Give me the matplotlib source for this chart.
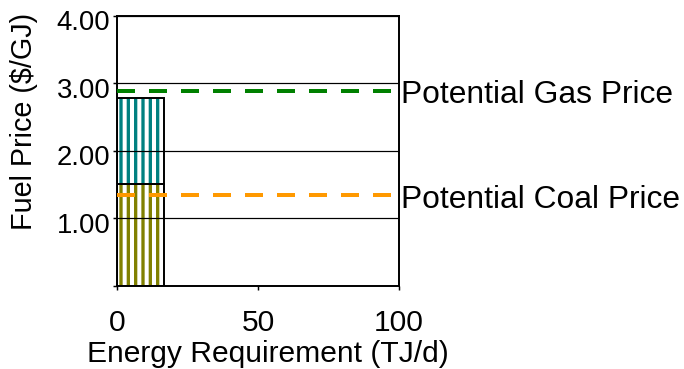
import matplotlib
matplotlib.use("Agg")
import matplotlib.pyplot as plt
import matplotlib.transforms as mtransforms

# Fuel supply data
energy_requirement = 16.7        # TJ/d
coal_price_band = 1.50           # $/GJ, lower (coal) segment top
gas_price_band = 2.78            # $/GJ, upper (gas) segment top
potential_gas_price = 2.89       # $/GJ
potential_coal_price = 1.35      # $/GJ

x_ticks = [0, 50, 100]
x_tick_labels = ["0", "50", "100"]
y_ticks = [0, 1, 2, 3, 4]
y_tick_labels = ["", "1.00", "2.00", "3.00", "4.00"]

DPI = 88
plt.rcParams["font.family"] = ["Liberation Sans", "DejaVu Sans"]
plt.rcParams["hatch.linewidth"] = 2.7
plt.rcParams["lines.scale_dashes"] = False

fig = plt.figure(figsize=(684 / DPI, 369 / DPI), dpi=DPI)
ax = fig.add_axes([117 / 684, 83.5 / 369, 282 / 684, 269.5 / 369])

olive = "#808000"
teal = "#008080"

# Striped stacked column: coal segment below, gas segment above
ax.bar(0, coal_price_band, width=energy_requirement, align="edge",
       facecolor="white", edgecolor=olive, linewidth=0, hatch="||", zorder=1)
ax.bar(0, gas_price_band - coal_price_band, bottom=coal_price_band,
       width=energy_requirement, align="edge",
       facecolor="white", edgecolor=teal, linewidth=0, hatch="||", zorder=1)
ax.bar(0, coal_price_band, width=energy_requirement, align="edge",
       fill=False, edgecolor="black", linewidth=1.6, zorder=2)
ax.bar(0, gas_price_band - coal_price_band, bottom=coal_price_band,
       width=energy_requirement, align="edge",
       fill=False, edgecolor="black", linewidth=1.6, zorder=2)

# Potential price lines
dash = (18 * 72 / DPI, 14 * 72 / DPI)
ax.plot([0, 99.2], [potential_gas_price] * 2, color="#008000",
        linewidth=4 * 72 / DPI, dashes=dash, dash_capstyle="butt", zorder=3)
ax.plot([0, 99.2], [potential_coal_price] * 2, color="#FF9900",
        linewidth=4 * 72 / DPI, dashes=dash, dash_capstyle="butt", zorder=3)

trans = mtransforms.blended_transform_factory(ax.transAxes, ax.transData)
ax.annotate("Potential Gas Price", xy=(1.0057, potential_gas_price),
            xycoords=trans, xytext=(0, -10.0), textcoords="offset points",
            ha="left", va="baseline", fontsize=26, annotation_clip=False)
ax.annotate("Potential Coal Price", xy=(1.0057, potential_coal_price),
            xycoords=trans, xytext=(0, -11.2), textcoords="offset points",
            ha="left", va="baseline", fontsize=26, annotation_clip=False)

ax.set_xlim(0, 100)
ax.set_ylim(0, 4)
ax.set_xticks(x_ticks)
ax.set_xticklabels(x_tick_labels, fontsize=24.5)
ax.set_yticks(y_ticks)
ax.set_yticklabels(y_tick_labels, fontsize=22.5)
ax.set_axisbelow(False)
ax.yaxis.grid(True, color="black", linewidth=1.0)
ax.xaxis.grid(False)

ax.tick_params(axis="x", direction="out", length=3.5, width=1.2, pad=16)
ax.tick_params(axis="y", direction="out", length=3, width=1.2, pad=2.5)
down = mtransforms.ScaledTranslation(0, -4.5 / DPI, fig.dpi_scale_trans)
for lab in ax.get_yticklabels():
    lab.set_transform(lab.get_transform() + down)
for s in ax.spines.values():
    s.set_linewidth(1.6)
    s.set_color("black")

ax.set_xlabel("Energy Requirement (TJ/d)", fontsize=24.5)
ax.xaxis.label.set_va("baseline")
ax.xaxis.set_label_coords(0.534, -0.2857)
ax.set_ylabel("Fuel Price ($/GJ)", fontsize=23.5)
ax.yaxis.label.set_va("center")
ax.yaxis.set_label_coords(-0.329, 0.61)

fig.savefig("out.png", dpi=DPI)
